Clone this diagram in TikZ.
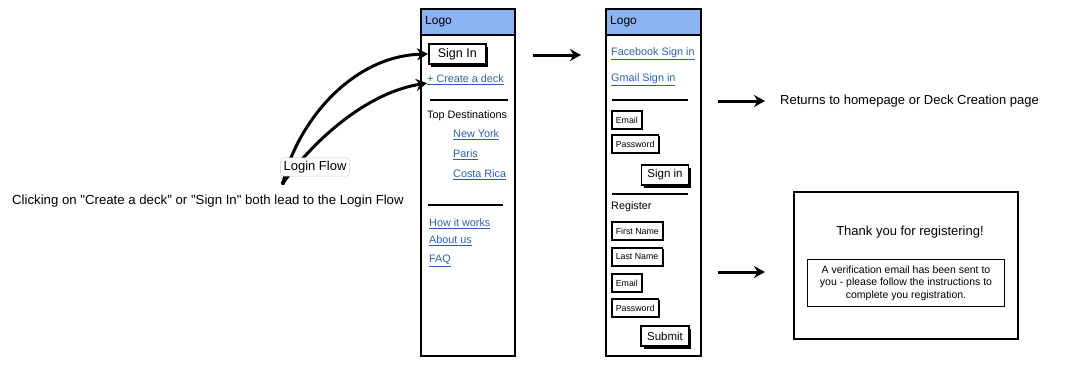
\documentclass[tikz,border=0pt]{standalone}
\usepackage{fontspec}
\setmainfont{Liberation Sans}[Ligatures=TeXOff]
\usetikzlibrary{positioning,arrows.meta,shadows}

\definecolor{hdrblue}{RGB}{141,180,242}
\definecolor{linkblue}{RGB}{45,95,180}

\newcommand{\lnk}[1]{\underline{#1}}

\begin{document}
\begin{tikzpicture}[x=1pt,y=-1pt,
    panel/.style={draw, line width=2.4pt},
    hdr/.style={draw, line width=2.4pt, fill=hdrblue},
    lbl/.style={anchor=west, inner sep=0pt, font=\fontsize{10.8}{12}\selectfont},
    link/.style={lbl, text=linkblue},
    field/.style={draw, line width=1.6pt, fill=white, anchor=west, inner xsep=4pt, inner ysep=2pt,
        minimum height=18pt, font=\fontsize{8.8}{10}\selectfont,
        drop shadow={shadow xshift=1.2pt, shadow yshift=-1.2pt, opacity=1, fill=black}},
    btn/.style={draw, line width=1.6pt, fill=white, inner xsep=6pt, minimum height=20pt,
        font=\fontsize{11.5}{13}\selectfont,
        drop shadow={shadow xshift=2.5pt, shadow yshift=-2.5pt, opacity=1, fill=black}},
    sep/.style={line width=1.8pt},
    flow/.style={-{Stealth[length=11pt,width=12pt]}, line width=3pt},
    note/.style={inner sep=0pt, font=\fontsize{13}{15}\selectfont}]

    \useasboundingbox (0,0) rectangle (1072,370);

    % Home page
    \draw[panel] (421,9) rectangle (515,356);
    \draw[hdr] (421,9) rectangle (515,35);
    \node[lbl, font=\fontsize{12}{14}\selectfont] (logoA) at (425,22) {Logo};
    \node[btn, anchor=west, inner xsep=9pt, font=\fontsize{12.5}{14}\selectfont] (signin) at (428,54) {Sign In};
    \node[link] (create) at (427,80) {\lnk{+ Create a deck}};
    \draw[sep] (430,100) -- (508,100);
    \node[lbl] (topdest) at (427,116) {Top Destinations};
    \node[link] (ny) at (453,135) {\lnk{New York}};
    \node[link] (paris) at (453,155) {\lnk{Paris}};
    \node[link] (costa) at (453,175) {\lnk{Costa Rica}};
    \draw[sep] (428,205) -- (503,205);
    \node[link] (how) at (429,224) {\lnk{How it works}};
    \node[link] (about) at (429,241) {\lnk{About us}};
    \node[link] (faq) at (429,261) {\lnk{FAQ}};

    % Login page
    \draw[panel] (606,9) rectangle (701,356);
    \draw[hdr] (606,9) rectangle (701,35);
    \node[lbl, font=\fontsize{12}{14}\selectfont] (logoB) at (610,22) {Logo};
    \node[link] (fb) at (611,54) {\lnk{Facebook Sign in}};
    \node[link] (gmail) at (611,80) {\lnk{Gmail Sign in}};
    \draw[sep] (612,100) -- (688,100);
    \node[field] (email) at (611,120) {Email};
    \node[field] (pass) at (611,144) {Password};
    \node[btn] (signinB) at (665,175) {Sign in};
    \draw[sep] (612,194) -- (688,194);
    \node[lbl] (register) at (611,207) {Register};
    \node[field] (first) at (611,231) {First Name};
    \node[field] (last) at (611,257) {Last Name};
    \node[field] (emailB) at (611,283) {Email};
    \node[field] (passB) at (611,308) {Password};
    \node[btn] (submit) at (665,336) {Submit};

    % Confirmation page
    \node[draw, line width=1.8pt, minimum width=224pt, minimum height=147pt] (thanks) at (906,265.5) {};
    \node[note] (thankstxt) at (910,232) {Thank you for registering!};
    \node[draw, line width=1.8pt, minimum width=197pt, minimum height=47pt, align=center,
        inner sep=3pt, font=\fontsize{10.5}{12.5}\selectfont] (verify) at (906,283)
        {A verification email has been sent to\\you - please follow the instructions to\\complete you registration.};

    % Step arrows
    \coordinate (a1s) at (533,55);
    \coordinate (a1e) at (581,55);
    \coordinate (a2s) at (718,101);
    \coordinate (a2e) at (765,101);
    \coordinate (a3s) at (718,272);
    \coordinate (a3e) at (765,272);
    \draw[flow] (a1s) -- (a1e);
    \draw[flow] (a2s) -- (a2e);
    \draw[flow] (a3s) -- (a3e);
    \node[note, anchor=west] (returns) at (780,101) {Returns to homepage or Deck Creation page};

    % Login flow curves
    \coordinate (lf) at (283,183);
    \draw[flow] (lf) .. controls (296,125) and (350,56) .. (signin.west);
    \draw[flow] (lf) .. controls (318,135) and (370,92) .. ([yshift=2pt]create.south west);
    \fill (lf) circle (2.2);
    \node[note, draw=black!20, fill=white, rounded corners=3pt, inner sep=3pt] (login) at (315,167) {Login Flow};
    \node[note, anchor=west, font=\fontsize{13.2}{15}\selectfont] (caption) at (12,201)
        {Clicking on "Create a deck" or "Sign In" both lead to the Login Flow};
\end{tikzpicture}
\end{document}
